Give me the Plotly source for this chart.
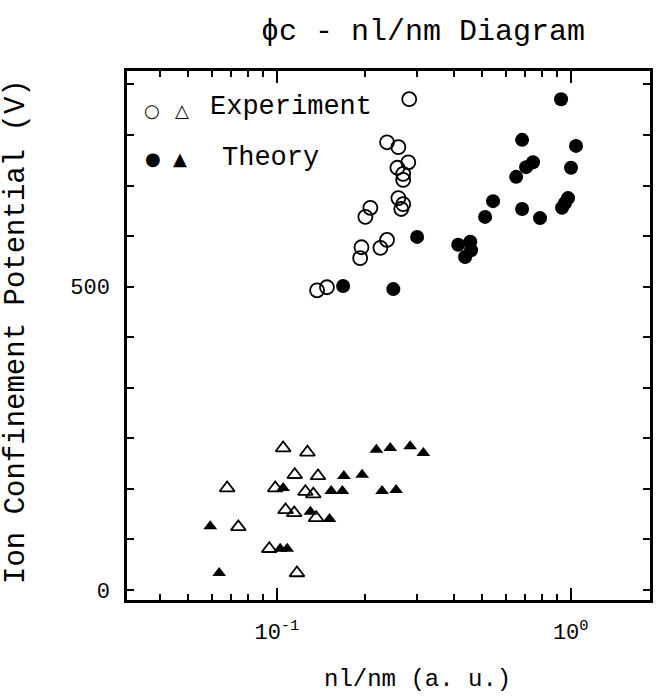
import plotly.graph_objects as go

# ---- data ----
exp_circle_x = [0.282, 0.237, 0.259, 0.280, 0.257, 0.269, 0.269, 0.259, 0.269, 0.265,
                0.208, 0.200, 0.237, 0.225, 0.194, 0.192, 0.148, 0.137]
exp_circle_y = [809, 738, 730, 705, 696, 686, 676, 646, 636, 628,
                630, 615, 577, 564, 565, 547, 499, 494]

th_circle_x = [0.168, 0.249, 0.300, 0.927, 0.683, 1.042, 0.744, 0.705, 0.652, 1.002,
               0.544, 0.511, 0.683, 0.786, 0.979, 0.956, 0.934, 0.414, 0.455, 0.458, 0.437]
th_circle_y = [501, 496, 582, 809, 742, 732, 705, 697, 681, 696,
               641, 615, 628, 613, 646, 638, 630, 569, 574, 560, 549]

exp_tri_x = [0.105, 0.127, 0.115, 0.138, 0.0677, 0.0987, 0.125, 0.133, 0.107, 0.1145,
             0.136, 0.0739, 0.0942, 0.117]
exp_tri_y = [234, 227, 190, 188, 168, 168, 162, 158, 132, 127,
             119, 104, 68, 28]

th_tri_x = [0.0593, 0.0636, 0.105, 0.1026, 0.1084, 0.130, 0.151, 0.153, 0.167, 0.169,
            0.195, 0.218, 0.243, 0.284, 0.315, 0.228, 0.2545]
th_tri_y = [105, 28, 168, 68, 68, 129, 117, 163, 163, 188,
            190, 231, 234, 237, 226, 163, 165]

x_major = [0.1, 1]
x_major_text = ["10<sup>-1</sup>", "10<sup>0</sup>"]
x_minor = [0.04, 0.05, 0.06, 0.07, 0.08, 0.09, 0.2, 0.3, 0.4, 0.5, 0.6, 0.7, 0.8, 0.9]
y_major = [0, 500]
y_major_text = ["0", "500"]
y_minor = [500 / 6 * k for k in range(1, 11) if k != 6]

FONT = "Liberation Mono, DejaVu Sans Mono, monospace"

fig = go.Figure()
fig.add_trace(go.Scatter(x=exp_circle_x, y=exp_circle_y, mode="markers",
                         marker=dict(symbol="circle-open", size=14, color="black",
                                     line=dict(width=1.8, color="black")),
                         showlegend=False))
fig.add_trace(go.Scatter(x=th_circle_x, y=th_circle_y, mode="markers",
                         marker=dict(symbol="circle", size=14, color="black"),
                         showlegend=False))
fig.add_trace(go.Scatter(x=exp_tri_x, y=exp_tri_y, mode="markers",
                         marker=dict(symbol="triangle-up-open", size=13, color="black",
                                     line=dict(width=1.8, color="black")),
                         showlegend=False))
fig.add_trace(go.Scatter(x=th_tri_x, y=th_tri_y, mode="markers",
                         marker=dict(symbol="triangle-up", size=12, color="black"),
                         showlegend=False))

fig.update_xaxes(type="log", range=[-1.5102, 0.2697],
                 tickvals=x_major, ticktext=x_major_text,
                 ticks="inside", ticklen=12, tickwidth=2, tickcolor="black",
                 showline=True, linewidth=2.5, linecolor="black", mirror="allticks",
                 showgrid=False, zeroline=False,
                 tickfont=dict(family=FONT, size=22, color="black"),
                 ticklabelstandoff=10,
                 minor=dict(tickvals=x_minor, ticks="inside", ticklen=6, tickwidth=2,
                            tickcolor="black", showgrid=False))
fig.update_yaxes(range=[-16.5, 855.5],
                 tickvals=y_major, ticktext=y_major_text,
                 ticks="inside", ticklen=7, tickwidth=2, tickcolor="black",
                 showline=True, linewidth=2.5, linecolor="black", mirror="allticks",
                 showgrid=False, zeroline=False,
                 tickfont=dict(family=FONT, size=22, color="black"),
                 ticklabelstandoff=10,
                 minor=dict(tickvals=y_minor, ticks="inside", ticklen=7, tickwidth=2,
                            tickcolor="black", showgrid=False))

ann = [
    dict(text="\u03d5c - nl/nm Diagram", x=0.566, y=1.074, xanchor="center", yanchor="middle",
         font=dict(family=FONT, size=30, color="black")),
    dict(text="nl/nm (a. u.)", x=0.556, y=-0.151, xanchor="center", yanchor="middle",
         font=dict(family=FONT, size=24, color="black")),
    dict(text="Ion Confinement Potential (V)", x=-0.21, y=0.507, xanchor="center",
         yanchor="middle", textangle=-90, font=dict(family=FONT, size=29, color="black")),
    dict(text="\u25cb", x=0.0478, y=0.926, xanchor="center", yanchor="middle",
         font=dict(family="DejaVu Sans", size=18, color="black")),
    dict(text="\u25b3", x=0.1052, y=0.926, xanchor="center", yanchor="middle",
         font=dict(family="DejaVu Sans", size=18, color="black")),
    dict(text="Experiment", x=0.1549, y=0.932, xanchor="left", yanchor="middle",
         font=dict(family=FONT, size=27, color="black")),
    dict(text="\u25cf", x=0.0497, y=0.8355, xanchor="center", yanchor="middle",
         font=dict(family="DejaVu Sans", size=18, color="black")),
    dict(text="\u25b2", x=0.1013, y=0.8355, xanchor="center", yanchor="middle",
         font=dict(family="DejaVu Sans", size=18, color="black")),
    dict(text="Theory", x=0.1778, y=0.8355, xanchor="left", yanchor="middle",
         font=dict(family=FONT, size=27, color="black")),
]
for a in ann:
    a.update(xref="paper", yref="paper", showarrow=False)
fig.update_layout(annotations=ann,
                  width=668, height=700,
                  margin=dict(l=127, r=18, t=71, b=100),
                  paper_bgcolor="white", plot_bgcolor="white",
                  font=dict(family=FONT, color="black"))

fig.write_html("out.html")
